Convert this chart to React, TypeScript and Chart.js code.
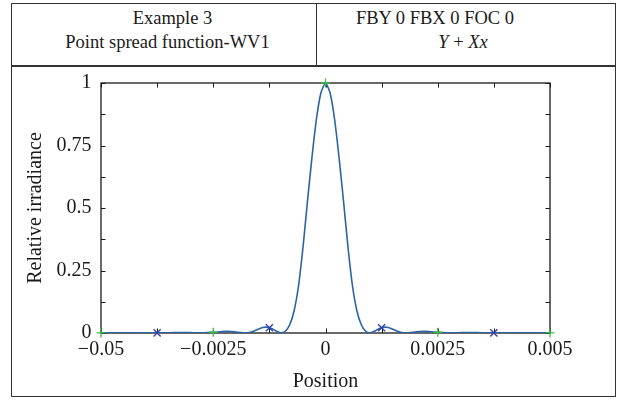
import React, { useEffect, useRef } from 'react';
import { Chart, registerables } from 'chart.js';

Chart.register(...registerables);

// ---- data ----
const positions = [
  -0.005, -0.00475, -0.0045, -0.00425, -0.004, -0.00375, -0.0035, -0.00325,
  -0.003, -0.0029, -0.0028, -0.0027, -0.0026, -0.0025, -0.0024, -0.0023, -0.0022, -0.0021,
  -0.002, -0.0019, -0.0018, -0.0017, -0.0016, -0.0015, -0.0014, -0.0013, -0.0012, -0.0011,
  -0.001, -0.0009, -0.0008, -0.0007, -0.0006, -0.0005, -0.0004, -0.0003, -0.0002, -0.0001,
  0,
  0.0001, 0.0002, 0.0003, 0.0004, 0.0005, 0.0006, 0.0007, 0.0008, 0.0009, 0.001,
  0.0011, 0.0012, 0.0013, 0.0014, 0.0015, 0.0016, 0.0017, 0.0018, 0.0019, 0.002,
  0.0021, 0.0022, 0.0023, 0.0024, 0.0025, 0.0026, 0.0027, 0.0028, 0.0029, 0.003,
  0.00325, 0.0035, 0.00375, 0.004, 0.00425, 0.0045, 0.00475, 0.005,
];
const irradiance = [
  0.0003, 0.0004, 0.0007, 0.0012, 0.001, 0.0005, 0.0009, 0.0018,
  0.0014, 0.001, 0.0008, 0.0012, 0.002, 0.003, 0.004, 0.0055, 0.0065, 0.006,
  0.004, 0.002, 0.0003, 0.0015, 0.007, 0.015, 0.022, 0.023, 0.018, 0.008,
  0.001, 0.006, 0.032, 0.088, 0.19, 0.345, 0.53, 0.705, 0.858, 0.962,
  1.0,
  0.962, 0.858, 0.705, 0.53, 0.345, 0.19, 0.088, 0.032, 0.006, 0.001,
  0.008, 0.018, 0.023, 0.022, 0.015, 0.007, 0.0015, 0.0003, 0.002, 0.004,
  0.006, 0.0065, 0.0055, 0.004, 0.003, 0.002, 0.0012, 0.0008, 0.001, 0.0014,
  0.0018, 0.0009, 0.0005, 0.001, 0.0012, 0.0007, 0.0004, 0.0003,
];
const plusPositions = [-0.005, -0.0025, 0, 0.0025, 0.005];
const plusValues = [0.0003, 0.003, 1.0, 0.003, 0.0003];
const crossPositions = [-0.00375, -0.00125, 0.00125, 0.00375];
const crossValues = [0.0005, 0.021, 0.021, 0.0005];

const xTickValues = [-0.005, -0.0025, 0, 0.0025, 0.005];
const xTickLabels = ['\u22120.05', '\u22120.0025', '0', '0.0025', '0.005'];
const xMinorTicks = [-0.005, -0.00375, -0.0025, -0.00125, 0, 0.00125, 0.0025, 0.00375, 0.005];
const yTickValues = [0, 0.25, 0.5, 0.75, 1];
const yTickLabels = ['0', '0.25', '0.5', '0.75', '1'];
const yMinorTicks = [0, 0.125, 0.25, 0.375, 0.5, 0.625, 0.75, 0.875, 1];

const headerLeft = ['Example 3', 'Point spread function-WV1'];
const headerRight1 = 'FBY 0 FBX 0 FOC 0';
const xTitle = 'Position';
const yTitle = 'Relative irradiance';

const FONT = "'Liberation Serif', 'Times New Roman', serif";

const boxAndTicks = {
  id: 'boxAndTicks',
  beforeDatasetsDraw(chart: any) {
    const { ctx, chartArea, scales } = chart;
    const { left, right, top, bottom } = chartArea;
    const x = scales.x;
    const y = scales.y;
    ctx.save();
    ctx.strokeStyle = '#1a1a1a';
    ctx.lineWidth = 1.3;
    ctx.strokeRect(left, top, right - left, bottom - top);
    ctx.lineWidth = 1;
    ctx.beginPath();
    const tl = 4.5;
    xMinorTicks.forEach((v) => {
      const px = Math.round(x.getPixelForValue(v)) + 0.5;
      ctx.moveTo(px, bottom);
      ctx.lineTo(px, bottom - tl);
      ctx.moveTo(px, top);
      ctx.lineTo(px, top + tl);
    });
    yMinorTicks.forEach((v) => {
      const py = Math.round(y.getPixelForValue(v)) + 0.5;
      ctx.moveTo(left, py);
      ctx.lineTo(left + tl, py);
      ctx.moveTo(right, py);
      ctx.lineTo(right - tl, py);
    });
    ctx.stroke();
    ctx.restore();
  },
};

function PsfChart() {
  const ref = useRef<HTMLCanvasElement>(null);
  useEffect(() => {
    if (!ref.current) return;
    const chart = new Chart(ref.current, {
      type: 'scatter',
      data: {
        datasets: [
          {
            data: positions.map((p, i) => ({ x: p, y: irradiance[i] })),
            showLine: true,
            borderColor: '#2c62a6',
            backgroundColor: '#2c62a6',
            borderWidth: 1.6,
            pointRadius: 0,
            tension: 0.2,
            order: 3,
          },
          {
            data: crossPositions.map((p, i) => ({ x: p, y: crossValues[i] })),
            showLine: false,
            pointStyle: 'crossRot',
            pointRadius: 5,
            borderColor: '#3040b0',
            backgroundColor: '#3040b0',
            borderWidth: 1.4,
            clip: false,
            order: 2,
          },
          {
            data: plusPositions.map((p, i) => ({ x: p, y: plusValues[i] })),
            showLine: false,
            pointStyle: 'cross',
            pointRadius: 4.5,
            borderColor: '#3dbb48',
            backgroundColor: '#3dbb48',
            borderWidth: 1.3,
            clip: false,
            order: 1,
          },
        ] as any,
      },
      options: {
        animation: false,
        responsive: false,
        events: [],
        layout: { padding: { left: 0, right: 69, top: 83, bottom: 0 } },
        plugins: { legend: { display: false }, tooltip: { enabled: false } },
        scales: {
          x: {
            type: 'linear',
            min: -0.005,
            max: 0.005,
            grid: { display: false, drawTicks: false },
            border: { display: false },
            afterBuildTicks: (scale: any) => {
              scale.ticks = xTickValues.map((v) => ({ value: v }));
            },
            afterFit: (scale: any) => {
              scale.height = 67;
            },
            ticks: {
              padding: 5,
              maxRotation: 0,
              autoSkip: false,
              color: '#1a1a1a',
              font: { family: FONT, size: 20 },
              callback: (_v: any, i: number) => xTickLabels[i],
            },
            title: {
              display: true,
              text: xTitle,
              color: '#1a1a1a',
              font: { family: FONT, size: 20 },
              padding: { top: 0, bottom: 6 },
            },
          },
          y: {
            type: 'linear',
            min: 0,
            max: 1,
            grid: { display: false, drawTicks: false },
            border: { display: false },
            afterBuildTicks: (scale: any) => {
              scale.ticks = yTickValues.map((v) => ({ value: v }));
            },
            afterFit: (scale: any) => {
              scale.width = 101;
            },
            ticks: {
              padding: 9.5,
              autoSkip: false,
              color: '#1a1a1a',
              font: { family: FONT, size: 20 },
              callback: (_v: any, i: number) => yTickLabels[i],
            },
            title: {
              display: true,
              text: yTitle,
              color: '#1a1a1a',
              font: { family: FONT, size: 20 },
              padding: { top: 23.5, bottom: 0 },
            },
          },
        },
      } as any,
      plugins: [boxAndTicks],
    });
    return () => chart.destroy();
  }, []);
  return (
    <canvas
      ref={ref}
      width={619}
      height={400}
      style={{ position: 'absolute', left: 0, top: 0, width: 619, height: 400 }}
    />
  );
}

const lineStyle = (centerX: number, top: number): React.CSSProperties => ({
  position: 'absolute',
  left: centerX - 160,
  width: 320,
  top,
  textAlign: 'center',
  fontFamily: FONT,
  fontSize: 18.5,
  lineHeight: '24px',
  color: '#1a1a1a',
  whiteSpace: 'nowrap',
});

export default function App() {
  return (
    <div
      style={{
        position: 'absolute',
        left: 0,
        top: 0,
        width: 619,
        height: 400,
        background: '#ffffff',
        overflow: 'hidden',
      }}
    >
      <div
        style={{
          position: 'absolute',
          left: 11,
          top: 3,
          width: 605,
          height: 394,
          border: '1.5px solid #333',
          boxSizing: 'border-box',
        }}
      />
      <div style={{ position: 'absolute', left: 11, top: 65, width: 605, height: 1.5, background: '#333' }} />
      <div style={{ position: 'absolute', left: 315.5, top: 3, width: 1.5, height: 63, background: '#333' }} />
      <div style={lineStyle(172.5, 5.8)}>{headerLeft[0]}</div>
      <div style={lineStyle(167.5, 30)}>{headerLeft[1]}</div>
      <div style={lineStyle(435, 5.8)}>{headerRight1}</div>
      <div style={lineStyle(463, 30)}>
        <i>Y</i> + <i>Xx</i>
      </div>
      <PsfChart />
    </div>
  );
}
